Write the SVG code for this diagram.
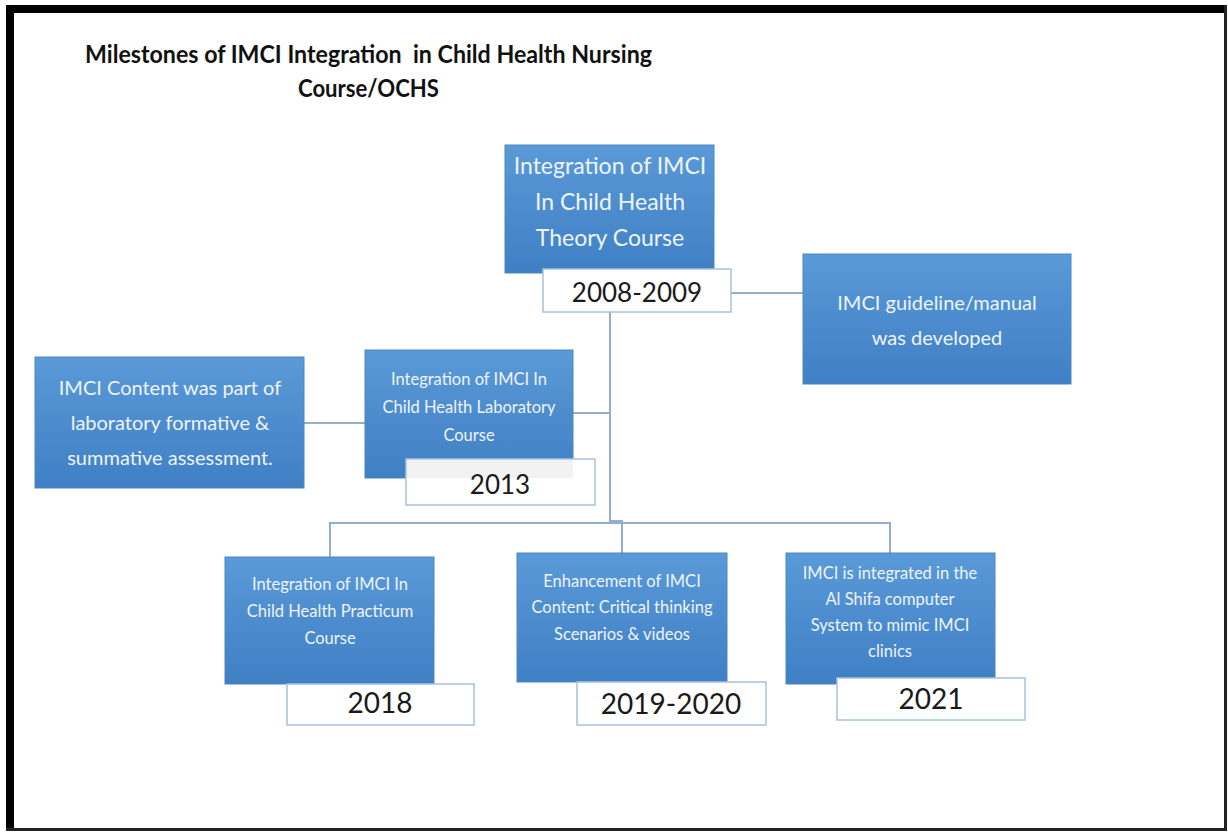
<svg xmlns="http://www.w3.org/2000/svg" width="1228" height="832" viewBox="0 0 1228 832">
<defs>
<linearGradient id="blue" x1="0" y1="0" x2="0" y2="1">
<stop offset="0" stop-color="#5a9ad8"/>
<stop offset="1" stop-color="#3f7fc4"/>
</linearGradient>
<style>
.box{fill:url(#blue);stroke:#4a86c4;stroke-width:1}
.lbl{fill:#ffffff;stroke:#a9c2dc;stroke-width:1.5}
.con{fill:none;stroke:#93afcf;stroke-width:2}
.bt{font-family:Lato,"Open Sans",sans-serif;fill:#eef4fb;text-anchor:middle}
.yt{font-family:Lato,"Open Sans",sans-serif;fill:#1a1a1a;text-anchor:middle}
.title{font-family:Lato,"Open Sans",sans-serif;font-weight:bold;fill:#111;font-size:25px}
</style>
</defs>
<rect x="0" y="0" width="1228" height="832" fill="#ffffff"/>
<rect x="10" y="9" width="1215" height="820" fill="none" stroke="#000" stroke-width="1"/>
<rect x="6" y="5" width="1220" height="8" fill="#000"/>
<rect x="6" y="5" width="8" height="826" fill="#000"/>
<rect x="1224" y="5" width="3" height="826" fill="#222"/>
<rect x="6" y="828" width="1221" height="3" fill="#222"/>

<g id="title">
<text class="title" x="85" y="63" textLength="567" lengthAdjust="spacingAndGlyphs" xml:space="preserve">Milestones of IMCI Integration  in Child Health Nursing</text>
<text class="title" x="298" y="97" textLength="141" lengthAdjust="spacingAndGlyphs">Course/OCHS</text>
</g>

<g id="connectors">
<line class="con" x1="731" y1="293" x2="803" y2="293"/>
<polyline class="con" points="610,312 610,521 622,521 622,553"/>
<line class="con" x1="573" y1="413" x2="610" y2="413"/>
<line class="con" x1="304" y1="423" x2="365" y2="423"/>
<polyline class="con" points="330,557 330,523 890,523 890,553"/>
</g>

<g id="node-theory">
<rect class="box" x="505" y="145" width="209" height="128"/>
<text class="bt" x="610" y="174" font-size="23">Integration of IMCI</text>
<text class="bt" x="610" y="210" font-size="23">In Child Health</text>
<text class="bt" x="610" y="246" font-size="23">Theory Course</text>
<rect class="lbl" x="543" y="269" width="188" height="43"/>
<text class="yt" x="637" y="302" font-size="26">2008-2009</text>
</g>

<g id="node-guideline">
<rect class="box" x="803" y="254" width="268" height="130"/>
<text class="bt" x="937" y="310" font-size="20">IMCI guideline/manual</text>
<text class="bt" x="937" y="345" font-size="20">was developed</text>
</g>

<g id="node-lab">
<rect class="box" x="365" y="350" width="208" height="128"/>
<text class="bt" x="469" y="385" font-size="16.5">Integration of IMCI In</text>
<text class="bt" x="469" y="413" font-size="16.5">Child Health Laboratory</text>
<text class="bt" x="469" y="441" font-size="16.5">Course</text>
<rect class="lbl" x="406" y="459" width="189" height="46"/>
<rect x="407" y="460" width="166" height="18" fill="#f2f2f2"/>
<text class="yt" x="500" y="494" font-size="26">2013</text>
</g>

<g id="node-assessment">
<rect class="box" x="35" y="357" width="269" height="131"/>
<text class="bt" x="170" y="395" font-size="20">IMCI Content was part of</text>
<text class="bt" x="170" y="430" font-size="20">laboratory formative &amp;</text>
<text class="bt" x="170" y="465" font-size="20">summative assessment.</text>
</g>

<g id="node-practicum">
<rect class="box" x="225" y="557" width="209" height="127"/>
<text class="bt" x="330" y="590" font-size="16.5">Integration of IMCI In</text>
<text class="bt" x="330" y="617" font-size="16.5">Child Health Practicum</text>
<text class="bt" x="330" y="644" font-size="16.5">Course</text>
<rect class="lbl" x="287" y="684" width="187" height="41"/>
<text class="yt" x="380" y="713" font-size="28">2018</text>
</g>

<g id="node-enhancement">
<rect class="box" x="517" y="553" width="210" height="129"/>
<text class="bt" x="622" y="587" font-size="16.5">Enhancement of IMCI</text>
<text class="bt" x="622" y="613" font-size="16.5">Content: Critical thinking</text>
<text class="bt" x="622" y="640" font-size="16.5">Scenarios &amp; videos</text>
<rect class="lbl" x="577" y="682" width="189" height="43"/>
<text class="yt" x="671" y="714" font-size="28">2019-2020</text>
</g>

<g id="node-alshifa">
<rect class="box" x="786" y="553" width="209" height="131"/>
<text class="bt" x="890" y="579" font-size="16.5">IMCI is integrated in the</text>
<text class="bt" x="890" y="605" font-size="16.5">Al Shifa computer</text>
<text class="bt" x="890" y="631" font-size="16.5">System to mimic IMCI</text>
<text class="bt" x="890" y="657" font-size="16.5">clinics</text>
<rect class="lbl" x="837" y="678" width="188" height="42"/>
<text class="yt" x="931" y="709" font-size="28">2021</text>
</g>
</svg>
